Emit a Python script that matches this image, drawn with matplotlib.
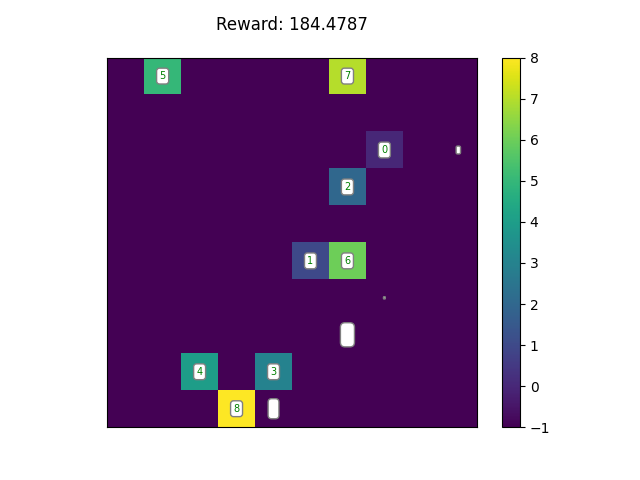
import numpy as np
import matplotlib
matplotlib.use('Agg')
from matplotlib import pyplot as plt

grid_size = 10
reward = 184.4787

# labelled cells: (row, col, value)
rows = [0, 0, 2, 3, 5, 5, 8, 8, 9]
cols = [1, 6, 7, 6, 5, 6, 2, 4, 3]
vals = [5, 7, 0, 2, 1, 6, 4, 3, 8]

# empty markers: (row, col, fontsize)
m_rows = [2, 6, 7, 9]
m_cols = [9, 7, 6, 4]
m_sizes = [3.5, 1.5, 11, 8.5]

grid = np.full((grid_size, grid_size), -1.0)
for r, c, v in zip(rows, cols, vals):
    grid[r, c] = v

fig, ax = plt.subplots(figsize=(6.4, 4.8), dpi=100)
im = ax.imshow(grid, cmap='viridis', vmin=-1, vmax=8)
plt.colorbar(im, ax=ax)

box = dict(boxstyle='round', facecolor='white', edgecolor='gray')
for r, c, v in zip(rows, cols, vals):
    ax.text(c, r, str(v), ha='center', va='center', color='green',
            fontsize=7, bbox=box)
for r, c, s in zip(m_rows, m_cols, m_sizes):
    ax.text(c, r, ' ', ha='center', va='center', fontsize=s, bbox=box)

ax.set_xticks([])
ax.set_yticks([])
ax.set_title('Reward: %.4f' % reward, pad=20)
plt.savefig('out.png')
